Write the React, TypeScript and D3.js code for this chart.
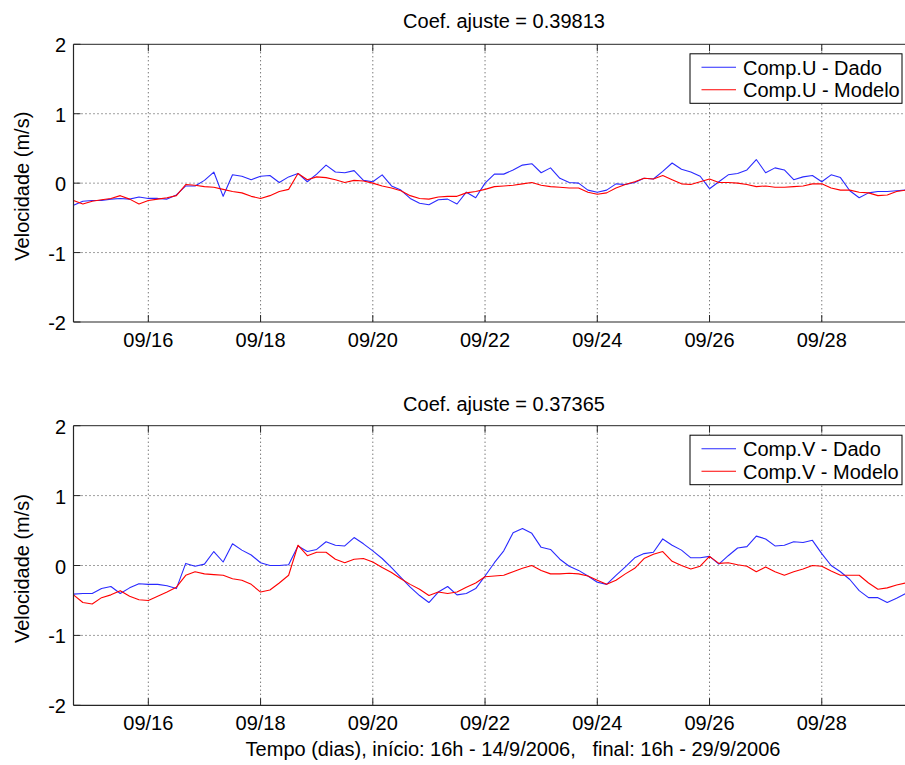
import React from "react";
import * as d3 from "d3";

// ---------- data ----------
const START = new Date(2006, 8, 14, 16, 0);
const END = new Date(2006, 8, 29, 16, 0);
const STEP_HOURS = 4;
const tickDays = [16, 18, 20, 22, 24, 26, 28];
const yTicks = [-2, -1, 0, 1, 2];
const titles = ["Coef. ajuste = 0.39813", "Coef. ajuste = 0.37365"];
const legendU = ["Comp.U - Dado", "Comp.U - Modelo"];
const legendV = ["Comp.V - Dado", "Comp.V - Modelo"];
const yLabel = "Velocidade (m/s)";
const xLabel = "Tempo (dias), início: 16h - 14/9/2006,   final: 16h - 29/9/2006";

const uDado = [
  -0.32, -0.26, -0.25, -0.25, -0.23, -0.22, -0.23, -0.2, -0.22, -0.22,
  -0.23, -0.17, -0.04, -0.04, 0.04, 0.16, -0.19, 0.12, 0.1, 0.05,
  0.1, 0.11, 0.01, 0.09, 0.14, 0.02, 0.13, 0.26, 0.16, 0.15,
  0.18, 0.04, 0.02, 0.12, -0.04, -0.1, -0.22, -0.29, -0.31, -0.24,
  -0.23, -0.3, -0.13, -0.21, 0.0, 0.13, 0.13, 0.19, 0.26, 0.28,
  0.15, 0.22, 0.07, 0.01, 0.0, -0.1, -0.13, -0.1, -0.01, -0.02,
  0.01, 0.07, 0.06, 0.17, 0.29, 0.2, 0.16, 0.1, -0.08, 0.02,
  0.12, 0.14, 0.19, 0.34, 0.15, 0.22, 0.19, 0.05, 0.09, 0.11,
  0.02, 0.12, 0.08, -0.11, -0.21, -0.14, -0.12, -0.12, -0.11, -0.1,
  -0.1,
];
const uModelo = [
  -0.25, -0.3, -0.26, -0.24, -0.22, -0.18, -0.23, -0.3, -0.25, -0.23,
  -0.21, -0.18, -0.02, -0.03, -0.05, -0.06, -0.09, -0.12, -0.14, -0.19,
  -0.22, -0.18, -0.12, -0.09, 0.14, 0.05, 0.09, 0.08, 0.05, 0.01,
  0.04, 0.03, 0.0, -0.04, -0.07, -0.11, -0.18, -0.22, -0.23, -0.2,
  -0.19, -0.19, -0.14, -0.12, -0.09, -0.05, -0.04, -0.03, -0.01, 0.01,
  -0.03, -0.05, -0.06, -0.07, -0.07, -0.13, -0.16, -0.14, -0.07, -0.02,
  0.02, 0.07, 0.06, 0.11, 0.05, -0.01, -0.02, 0.02, 0.06, 0.01,
  0.01, 0.0, -0.02, -0.05, -0.04, -0.06, -0.06, -0.05, -0.04, -0.01,
  -0.01, -0.07, -0.1, -0.1, -0.13, -0.14, -0.18, -0.17, -0.12, -0.1,
  -0.09,
];
const vDado = [
  -0.41, -0.4, -0.4, -0.33, -0.3, -0.4, -0.32, -0.26, -0.27, -0.27,
  -0.29, -0.33, 0.03, -0.01, 0.02, 0.2, 0.05, 0.31, 0.22, 0.15,
  0.04, 0.0, 0.0, 0.01, 0.28, 0.2, 0.23, 0.34, 0.29, 0.28,
  0.4, 0.31, 0.21, 0.1, -0.03, -0.17, -0.31, -0.43, -0.53, -0.38,
  -0.3, -0.42, -0.4, -0.33, -0.15, 0.04, 0.21, 0.47, 0.53, 0.46,
  0.26, 0.23, 0.09, -0.01, -0.07, -0.15, -0.24, -0.27, -0.14, -0.02,
  0.11, 0.17, 0.19, 0.38, 0.29, 0.22, 0.11, 0.11, 0.13, 0.02,
  0.14, 0.25, 0.27, 0.42, 0.38, 0.28, 0.29, 0.34, 0.33, 0.36,
  0.17, 0.0, -0.09, -0.2, -0.36, -0.46, -0.46, -0.53, -0.47, -0.4,
  -0.38,
];
const vModelo = [
  -0.42, -0.53, -0.55, -0.46, -0.42, -0.36, -0.44, -0.49, -0.5, -0.44,
  -0.38, -0.31, -0.14, -0.09, -0.12, -0.13, -0.14, -0.19, -0.21, -0.27,
  -0.38, -0.35, -0.25, -0.14, 0.29, 0.14, 0.19, 0.19, 0.09, 0.04,
  0.09, 0.1, 0.05, -0.03, -0.1, -0.19, -0.27, -0.34, -0.43, -0.38,
  -0.4, -0.38, -0.31, -0.25, -0.16, -0.15, -0.14, -0.09, -0.04, 0.0,
  -0.07, -0.12, -0.12, -0.11, -0.12, -0.15, -0.21, -0.27, -0.21, -0.12,
  -0.04, 0.1, 0.16, 0.2, 0.06, 0.0, -0.05, -0.01, 0.13, 0.03,
  0.04, 0.01, -0.01, -0.09, -0.02, -0.09, -0.14, -0.09, -0.05, 0.0,
  -0.01, -0.08, -0.14, -0.14, -0.14, -0.25, -0.34, -0.32, -0.28, -0.25,
  -0.22,
];

// ---------- layout ----------
const W = 905;
const H = 765;
const LEFT = 73.5;
const RIGHT = 915.3;
const FONT = "'Liberation Sans', Arial, Helvetica, sans-serif";
const BLUE = "#2a2aff";
const RED = "#ff0000";
const AXIS = "#262626";
const GRID = "#404040";

const x = d3.scaleTime().domain([START, END]).range([LEFT, RIGHT]);
const fmt = d3.timeFormat("%m/%d");
const times = uDado.map((_, i) => new Date(START.getTime() + i * STEP_HOURS * 3600e3));
const tickDates = tickDays.map((d) => new Date(2006, 8, d));

type PanelProps = {
  id: string;
  top: number;
  bottom: number;
  title: string;
  titleY: number;
  legend: string[];
  dado: number[];
  modelo: number[];
  tickLabelY: number;
};

function Panel({ id, top, bottom, title, titleY, legend, dado, modelo, tickLabelY }: PanelProps) {
  const y = d3.scaleLinear().domain([-2, 2]).range([bottom, top]);
  const line = d3
    .line<number>()
    .x((_, i) => x(times[i]))
    .y((v) => y(v));
  const lgX = 690;
  const lgY = top + 9.5;
  const lgW = 212;
  const lgH = 49.5;
  const tickLen = 7;
  return (
    <g>
      <defs>
        <clipPath id={`clip-${id}`}>
          <rect x={LEFT} y={top} width={RIGHT - LEFT} height={bottom - top} />
        </clipPath>
      </defs>
      <rect x={LEFT} y={top} width={RIGHT - LEFT} height={bottom - top} fill="#fff" />
      {/* grid */}
      {tickDates.map((d, i) => (
        <line
          key={`gx${i}`}
          x1={x(d)}
          x2={x(d)}
          y1={top}
          y2={bottom}
          stroke={GRID}
          strokeWidth={1}
          strokeDasharray="1,3"
        />
      ))}
      {yTicks
        .filter((t) => t > -2 && t < 2)
        .map((t) => (
          <line
            key={`gy${t}`}
            x1={LEFT}
            x2={RIGHT}
            y1={y(t)}
            y2={y(t)}
            stroke={GRID}
            strokeWidth={1}
            strokeDasharray="1,3"
          />
        ))}
      {/* data */}
      <g clipPath={`url(#clip-${id})`}>
        <path d={line(dado) || ""} fill="none" stroke={BLUE} strokeWidth={1.1} strokeLinejoin="round" />
        <path d={line(modelo) || ""} fill="none" stroke={RED} strokeWidth={1.1} strokeLinejoin="round" />
      </g>
      {/* frame */}
      <line x1={LEFT} x2={W} y1={top} y2={top} stroke={AXIS} strokeWidth={1} />
      <line x1={LEFT} x2={W} y1={bottom} y2={bottom} stroke={AXIS} strokeWidth={1.2} />
      <line x1={LEFT} x2={LEFT} y1={top} y2={bottom} stroke={AXIS} strokeWidth={1.2} />
      {/* ticks */}
      {tickDates.map((d, i) => (
        <g key={`tx${i}`}>
          <line x1={x(d)} x2={x(d)} y1={bottom} y2={bottom - tickLen} stroke={AXIS} />
          <line x1={x(d)} x2={x(d)} y1={top} y2={top + tickLen} stroke={AXIS} />
          <text
            x={x(d)}
            y={tickLabelY}
            textAnchor="middle"
            fontFamily={FONT}
            fontSize={20}
            fill="#000"
          >
            {fmt(d)}
          </text>
        </g>
      ))}
      {yTicks.map((t) => (
        <g key={`ty${t}`}>
          <line x1={LEFT} x2={LEFT + tickLen} y1={y(t)} y2={y(t)} stroke={AXIS} />
          <text
            x={66}
            y={y(t) + 8}
            textAnchor="end"
            fontFamily={FONT}
            fontSize={20}
            fill="#000"
          >
            {t}
          </text>
        </g>
      ))}
      {/* title */}
      <text x={504} y={titleY} textAnchor="middle" fontFamily={FONT} fontSize={20} fill="#000">
        {title}
      </text>
      {/* y label */}
      <text
        transform={`translate(29, ${(top + bottom) / 2 + 3}) rotate(-90)`}
        textAnchor="middle"
        fontFamily={FONT}
        fontSize={20}
        fill="#000"
      >
        {yLabel}
      </text>
      {/* legend */}
      <rect x={lgX} y={lgY} width={lgW} height={lgH} fill="#fff" stroke="#000" strokeWidth={1} />
      <line x1={701.5} x2={736} y1={lgY + 13.5} y2={lgY + 13.5} stroke={BLUE} strokeWidth={1.1} />
      <line x1={701.5} x2={736} y1={lgY + 36} y2={lgY + 36} stroke={RED} strokeWidth={1.1} />
      <text x={743} y={lgY + 21} fontFamily={FONT} fontSize={20} fill="#000">
        {legend[0]}
      </text>
      <text x={743} y={lgY + 43.5} fontFamily={FONT} fontSize={20} fill="#000">
        {legend[1]}
      </text>
    </g>
  );
}

export default function App() {
  return (
    <div style={{ position: "absolute", left: 0, top: 0, width: W, height: H, background: "#fff" }}>
      <svg width={W} height={H} viewBox={`0 0 ${W} ${H}`} style={{ display: "block" }}>
        <rect x={0} y={0} width={W} height={H} fill="#fff" />
        <Panel
          id="u"
          top={44.3}
          bottom={322}
          title={titles[0]}
          titleY={28}
          legend={legendU}
          dado={uDado}
          modelo={uModelo}
          tickLabelY={347}
        />
        <Panel
          id="v"
          top={425.7}
          bottom={705.3}
          title={titles[1]}
          titleY={411}
          legend={legendV}
          dado={vDado}
          modelo={vModelo}
          tickLabelY={730}
        />
        <text
          x={513}
          y={756}
          textAnchor="middle"
          fontFamily={FONT}
          fontSize={20}
          fill="#000"
          style={{ whiteSpace: "pre" }}
          xmlSpace="preserve"
        >
          {xLabel}
        </text>
      </svg>
    </div>
  );
}
